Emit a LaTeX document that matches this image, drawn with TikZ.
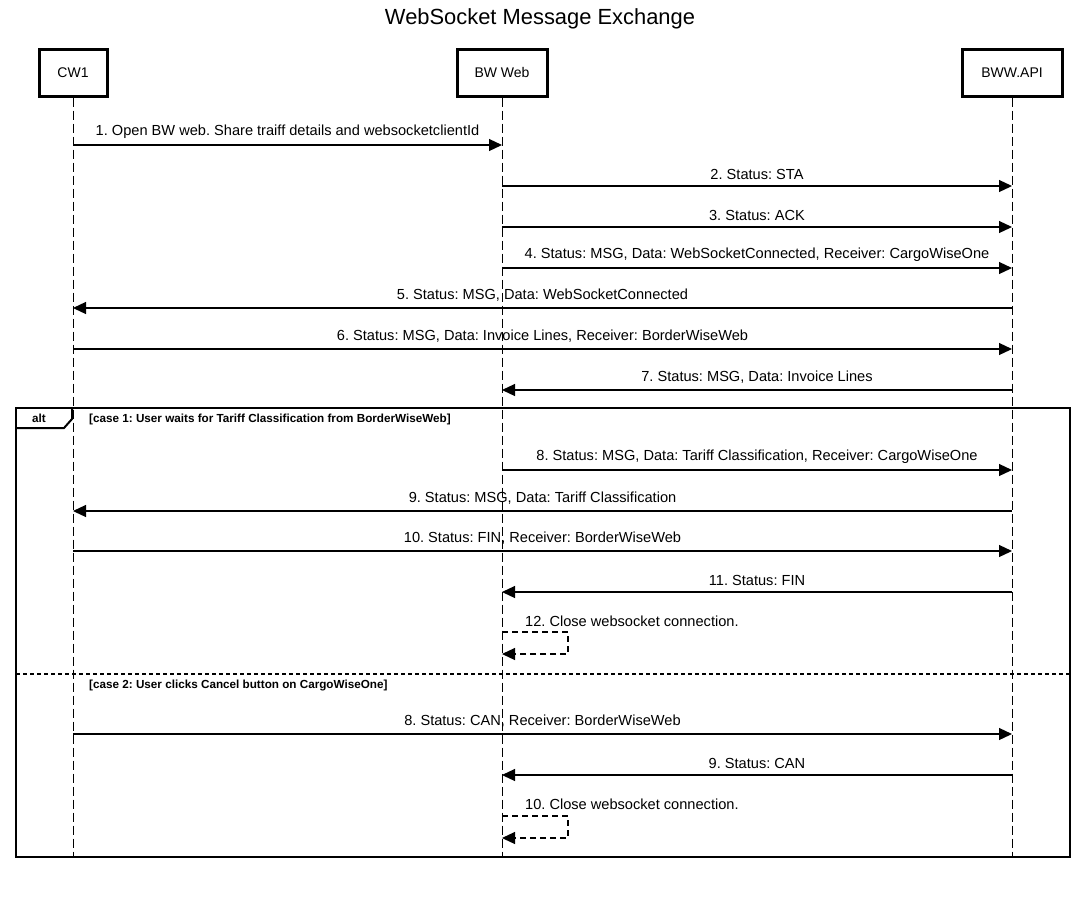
\documentclass[tikz,border=0pt]{standalone}
\usepackage{fontspec}
\setmainfont{Liberation Sans}
\usetikzlibrary{arrows.meta,calc}
\begin{document}
\frenchspacing
\begin{tikzpicture}[x=1pt,y=-1pt,
  actor/.style={draw,line width=3pt,minimum height=47pt,inner sep=0pt,font=\fontsize{14}{16}\selectfont},
  life/.style={line width=1pt,dash pattern=on 9pt off 4pt},
  msg/.style={line width=1.2pt,-{Triangle[length=13pt,width=12pt]}},
  selfmsg/.style={line width=1.2pt,dash pattern=on 6pt off 4pt,-{Triangle[length=13pt,width=12pt]}},
  lbl/.style={font=\fontsize{14.6}{16}\selectfont,inner sep=0pt},
  guard/.style={font=\bfseries\fontsize{11.7}{13}\selectfont,inner sep=0pt,anchor=west},
  frame/.style={line width=2pt}]
\useasboundingbox (0,0) rectangle (1085,914);
\node[font=\fontsize{21.9}{24}\selectfont] (title) at (540,18.5) {WebSocket Message Exchange};
\node[actor,minimum width=68pt] (cw) at (73,72.5) {CW1};
\node[actor,minimum width=90pt] (bw) at (502,72.5) {BW Web};
\node[actor,minimum width=100pt] (api) at (1012,72.5) {BWW.API};
\coordinate (cwE) at (73,857);
\coordinate (bwE) at (502,857);
\coordinate (apiE) at (1012,857);
\draw[life] (cw.south) -- (cwE);
\draw[life] (bw.south) -- (bwE);
\draw[life] (api.south) -- (apiE);
% messages
\draw[msg] (cw |- 0,145) -- node[lbl,above=6pt] {1. Open BW web. Share traiff details and websocketclientId} (bw |- 0,145);
\draw[msg] (bw |- 0,186) -- node[lbl,above=6pt] {2. Status: STA} (api |- 0,186);
\draw[msg] (bw |- 0,227) -- node[lbl,above=6pt] {3. Status: ACK} (api |- 0,227);
\draw[msg] (bw |- 0,268) -- node[lbl,above=6pt] {4. Status: MSG, Data: WebSocketConnected, Receiver: CargoWiseOne} (api |- 0,268);
\draw[msg] (api |- 0,308) -- node[lbl,above=6pt] {5. Status: MSG, Data: WebSocketConnected} (cw |- 0,308);
\draw[msg] (cw |- 0,349) -- node[lbl,above=6pt] {6. Status: MSG, Data: Invoice Lines, Receiver: BorderWiseWeb} (api |- 0,349);
\draw[msg] (api |- 0,390) -- node[lbl,above=6pt] {7. Status: MSG, Data: Invoice Lines} (bw |- 0,390);
% alt frame
\coordinate (fTL) at (16,408);
\coordinate (fBR) at (1070,857);
\draw[frame] (fTL) rectangle (fBR);
\draw[frame] (16,428) -- (64,428) -- (72,419) -- (72,408);
\node[font=\bfseries\fontsize{11.7}{13}\selectfont,inner sep=0pt] (alt) at (39,418) {alt};
\node[guard] (g1) at (89,419) {[case 1: User waits for Tariff Classification from BorderWiseWeb]};
\draw[msg] (bw |- 0,470) -- node[lbl,above=6pt] {8. Status: MSG, Data: Tariff Classification, Receiver: CargoWiseOne} (api |- 0,470);
\draw[msg] (api |- 0,511) -- node[lbl,above=6pt] {9. Status: MSG, Data: Tariff Classification} (cw |- 0,511);
\draw[msg] (cw |- 0,551) -- node[lbl,above=6pt] {10. Status: FIN, Receiver: BorderWiseWeb} (api |- 0,551);
\draw[msg] (api |- 0,592) -- node[lbl,above=6pt] {11. Status: FIN} (bw |- 0,592);
\node[lbl,anchor=west] (s12) at (525,621) {12. Close websocket connection.};
\draw[selfmsg] (bw |- 0,632) -- ++(66,0) -- ++(0,22) -- (bw |- 0,654);
% divider
\draw[line width=1.5pt,dash pattern=on 4pt off 3pt] (16,674) -- (1070,674);
\node[guard] (g2) at (89,685) {[case 2: User clicks Cancel button on CargoWiseOne]};
\draw[msg] (cw |- 0,734) -- node[lbl,above=6pt] {8. Status: CAN, Receiver: BorderWiseWeb} (api |- 0,734);
\draw[msg] (api |- 0,775) -- node[lbl,above=6pt] {9. Status: CAN} (bw |- 0,775);
\node[lbl,anchor=west] (s10) at (525,804) {10. Close websocket connection.};
\draw[selfmsg] (bw |- 0,816) -- ++(66,0) -- ++(0,22) -- (bw |- 0,838);
\end{tikzpicture}
\end{document}
